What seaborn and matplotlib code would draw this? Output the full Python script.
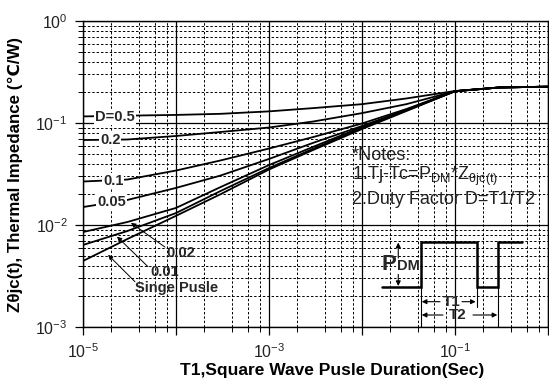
import numpy as np
import pandas as pd
import seaborn as sns
import matplotlib
matplotlib.use("Agg")
import matplotlib.pyplot as plt
from matplotlib.ticker import LogLocator, FuncFormatter, NullFormatter

# ---------------- data ----------------
pulse_duration = [1e-5, 3e-5, 1e-4, 3e-4, 1e-3, 3e-3, 1e-2, 3e-2, 1e-1, 3e-1, 1.0]
z_d050 = [0.116, 0.118, 0.120, 0.123, 0.130, 0.140, 0.153, 0.174, 0.206, 0.223, 0.227]
z_d020 = [0.0681, 0.0689, 0.0746, 0.0816, 0.0903, 0.1035, 0.125, 0.153, 0.205, 0.223, 0.227]
z_d010 = [0.0267, 0.0279, 0.0342, 0.0429, 0.0562, 0.0729, 0.0989, 0.137, 0.205, 0.223, 0.227]
z_d005 = [0.0150, 0.0176, 0.0231, 0.0305, 0.0444, 0.0640, 0.0935, 0.134, 0.205, 0.223, 0.227]
z_d002 = [0.00853, 0.0107, 0.0147, 0.0235, 0.0387, 0.0585, 0.0914, 0.134, 0.205, 0.223, 0.227]
z_d001 = [0.00637, 0.00873, 0.0131, 0.0215, 0.0362, 0.0560, 0.0893, 0.133, 0.205, 0.223, 0.227]
z_single = [0.00444, 0.00729, 0.0123, 0.0200, 0.0350, 0.0545, 0.0873, 0.131, 0.205, 0.223, 0.227]

curve_names = ["D=0.5", "0.2", "0.1", "0.05", "0.02", "0.01", "Singe Pusle"]
curve_values = [z_d050, z_d020, z_d010, z_d005, z_d002, z_d001, z_single]

# label anchor (t, Z) for each curve label
label_pos = {
    "D=0.5": (1.35e-5, 0.114),
    "0.2": (1.52e-5, 0.068),
    "0.1": (1.64e-5, 0.0273),
    "0.05": (1.42e-5, 0.0168),
}
arrow_labels = [
    # text, text position, arrow tail, arrow tip
    ("0.02", (7.8e-5, 0.00531), (7.6e-5, 0.00608), (3.28e-5, 0.0105)),
    ("0.01", (5.25e-5, 0.00348), (5.0e-5, 0.0039), (2.32e-5, 0.0077)),
    ("Singe Pusle", (3.62e-5, 0.00241), (3.62e-5, 0.00278), (1.86e-5, 0.0051)),
]

rows = []
for name, vals in zip(curve_names, curve_values):
    for t, z in zip(pulse_duration, vals):
        rows.append({"t": t, "z": z, "curve": name})
df = pd.DataFrame(rows)

# ---------------- style ----------------
sns.set_theme(style="white")
plt.rcParams["font.family"] = ["Liberation Sans", "DejaVu Sans"]
plt.rcParams["mathtext.fontset"] = "custom"
plt.rcParams["mathtext.rm"] = "Liberation Sans"
plt.rcParams["mathtext.it"] = "Liberation Sans:italic"
plt.rcParams["mathtext.bf"] = "Liberation Sans:bold"
plt.rcParams["mathtext.sf"] = "Liberation Sans"
plt.rcParams["mathtext.default"] = "regular"

W, H = 549, 383
fig = plt.figure(figsize=(W / 100, H / 100), dpi=100)
ax = fig.add_axes([83 / W, 1 - 327 / H, 465 / W, 306 / H])

ax.set_xscale("log")
ax.set_yscale("log")

sns.lineplot(data=df, x="t", y="z", hue="curve", hue_order=curve_names,
             palette=["black"] * len(curve_names), estimator=None,
             legend=False, linewidth=1.3, ax=ax, zorder=3)

ax.set_xlim(1e-5, 1.0)
ax.set_ylim(1e-3, 1.0)

ax.xaxis.set_major_locator(LogLocator(base=10, numticks=20))
ax.xaxis.set_minor_locator(LogLocator(base=10, subs=[2, 4, 6, 8], numticks=20))
ax.yaxis.set_major_locator(LogLocator(base=10, numticks=20))
ax.yaxis.set_minor_locator(LogLocator(base=10, subs=list(range(2, 10)), numticks=20))


def xfmt(v, p):
    e = int(round(np.log10(v)))
    return f"$10^{{{e}}}$" if e % 2 == 1 else ""


def yfmt(v, p):
    e = int(round(np.log10(v)))
    return f"$10^{{{e}}}$"


ax.xaxis.set_major_formatter(FuncFormatter(xfmt))
ax.yaxis.set_major_formatter(FuncFormatter(yfmt))
ax.xaxis.set_minor_formatter(NullFormatter())
ax.yaxis.set_minor_formatter(NullFormatter())

ax.set_axisbelow(True)
ax.grid(which="major", color="black", linewidth=0.9, linestyle="-")
ax.grid(which="minor", color="black", linewidth=0.7, linestyle=(0, (2.5, 2)))

for s in ax.spines.values():
    s.set_color("black")
    s.set_linewidth(1.0)
    s.set_visible(True)

ax.tick_params(which="major", direction="out", length=6, width=0.9,
               color="black", labelsize=11.5, labelcolor="#222222", pad=5,
               bottom=True, left=True)
ax.tick_params(which="minor", direction="out", length=3.5, width=0.7,
               color="black", bottom=True, left=True)

ax.set_xlabel("T1,Square Wave Pusle Duration(Sec)", fontsize=12.5,
              fontweight="bold", color="black")
ax.xaxis.label.set_va("center")
ax.xaxis.set_label_coords((332 - 83) / 465, -(371 - 327) / 306)
ax.set_ylabel("Zθjc(t), Thermal Impedance (℃/W)", fontsize=12.2,
              fontweight="bold", color="black")
ax.yaxis.label.set_va("center")
ax.yaxis.label.set_ha("center")
ax.yaxis.set_label_coords(-(83 - 15) / 465, 0.5)

# ---------------- curve labels ----------------
for name, (tx, ty) in label_pos.items():
    ax.text(tx, ty, name, fontsize=10.5, fontweight="bold", ha="left",
            va="center", zorder=5,
            bbox=dict(facecolor="white", edgecolor="none", pad=0.6))

for name, tpos, tail, tip in arrow_labels:
    ax.text(tpos[0], tpos[1], name, fontsize=10.5, fontweight="bold",
            ha="left", va="center", zorder=5)
    ax.annotate("", xy=tip, xytext=tail,
                arrowprops=dict(arrowstyle="-|>", color="black", lw=0.7,
                                mutation_scale=7, shrinkA=0, shrinkB=0),
                zorder=5)

# ---------------- notes ----------------
tr = ax.transAxes
ax.text(0.5785, 0.562, "*Notes:", transform=tr, fontsize=13, ha="left",
        va="center", color="#222222")
ax.text(0.5785, 0.4925, r"1.Tj-Tc=P$_{DM}$*Z$_{θjc(t)}$", transform=tr,
        fontsize=13, ha="left", va="center", color="#222222")
ax.text(0.5785, 0.4173, "2.Duty Factor D=T1/T2", transform=tr, fontsize=13,
        ha="left", va="center", color="#222222")

# ---------------- pulse schematic ----------------
px = [0.6424, 0.7262, 0.7262, 0.8467, 0.8467, 0.8931, 0.8931, 0.9434]
py = [0.1317, 0.1317, 0.2788, 0.2788, 0.1317, 0.1317, 0.2788, 0.2788]
ax.plot(px, py, transform=tr, color="black", lw=1.8, zorder=4,
        solid_joinstyle="miter")
ax.plot([0.7262, 0.7262], [0.1317, 0.0], transform=tr, color="black", lw=0.8, zorder=4)
ax.plot([0.8467, 0.8467], [0.1317, 0.066], transform=tr, color="black", lw=0.8, zorder=4)
ax.plot([0.8931, 0.8931], [0.1317, 0.0], transform=tr, color="black", lw=0.8, zorder=4)


def arrow(x0, y0, x1, y1):
    ax.annotate("", xy=(x1, y1), xytext=(x0, y0), xycoords=tr, textcoords=tr,
                arrowprops=dict(arrowstyle="-|>", color="black", lw=0.8,
                                mutation_scale=7, shrinkA=0, shrinkB=0),
                zorder=4)


# P_DM
arrow(0.678, 0.2255, 0.678, 0.276)
arrow(0.678, 0.1765, 0.678, 0.134)
ax.text(0.6735, 0.186, "P", transform=tr, fontsize=16, fontweight="bold",
        ha="right", va="baseline", zorder=5)
ax.text(0.6745, 0.186, "DM", transform=tr, fontsize=10.5, fontweight="bold",
        ha="left", va="baseline", zorder=5,
        bbox=dict(facecolor="white", edgecolor="none", pad=0.3))
# T1
arrow(0.7677, 0.0827, 0.7285, 0.0827)
arrow(0.8150, 0.0827, 0.8445, 0.0827)
ax.text(0.7925, 0.0827, "T1", transform=tr, fontsize=11, fontweight="bold",
        ha="center", va="center", zorder=5)
# T2
arrow(0.7742, 0.0392, 0.7285, 0.0392)
arrow(0.8387, 0.0392, 0.8910, 0.0392)
ax.text(0.8065, 0.0392, "T2", transform=tr, fontsize=11, fontweight="bold",
        ha="center", va="center", zorder=5)

fig.savefig("out.png", dpi=100, facecolor="white")
